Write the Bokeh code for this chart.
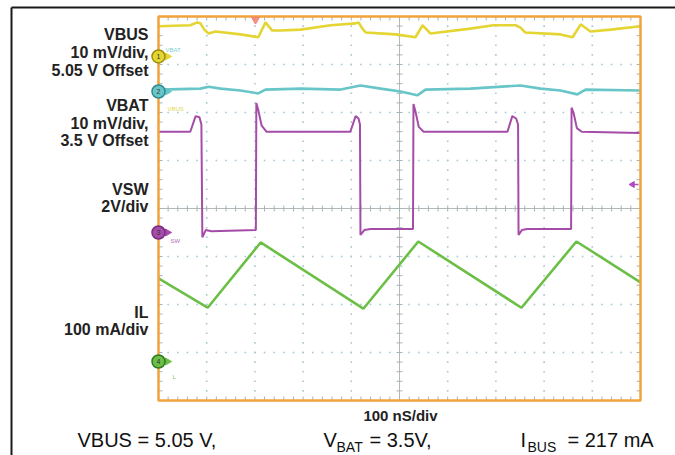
import numpy as np
from bokeh.plotting import figure
from bokeh.models import Range1d, ColumnDataSource
from bokeh.core.properties import value
from bokeh.embed import file_html
from bokeh.resources import INLINE

# ---------------- data ----------------
# time in ns (100 ns/div, 10 divisions)
vbus_t = [0, 66, 81, 87, 95, 104, 118, 170, 207, 222, 236, 253, 295, 357, 409, 415, 423, 430,
          492, 533, 548, 564, 647, 695, 741, 751, 761, 834, 859, 876, 896, 938, 1000]
vbus_mv = [6.3, 6.5, 7.1, 6.9, 5.6, 4.8, 5.2, 4.6, 4.0, 7.1, 5.4, 5.4, 5.6, 6.5, 6.9, 7.1, 5.8, 5.0,
           4.6, 4.0, 6.5, 4.8, 5.8, 6.5, 6.5, 6.0, 5.0, 4.6, 4.0, 6.7, 5.2, 5.6, 6.3]

vbat_t = [0, 87, 104, 129, 170, 207, 222, 295, 378, 419, 461, 502, 537, 554, 647, 751, 793,
          834, 869, 886, 1000]
vbat_mv = [0.4, 0.6, 1.0, 0.6, 0.2, -0.4, 0.4, 0.6, 0.4, 1.25, 0.6, 0.0, -0.8, 0.4, 0.6, 1.25, 0.6,
           0.2, -0.6, 0.4, 0.2]

vsw_t = [0, 66, 77, 85, 89, 91, 98, 110, 202, 203, 207, 214, 224,
         398, 409, 415, 418, 419, 427, 440, 528, 529, 533, 540, 550,
         724, 734, 742, 746, 747, 754, 765, 856, 857, 861, 868, 878, 1000]
vsw_v = [4.2, 4.2, 4.85, 4.8, 4.5, -0.2, 0.1, 0.05, 0.1, 5.4, 5.1, 4.45, 4.2,
         4.2, 4.85, 4.75, 4.5, -0.1, 0.1, 0.15, 0.15, 5.35, 5.05, 4.4, 4.2,
         4.2, 4.85, 4.75, 4.5, -0.1, 0.1, 0.15, 0.15, 5.2, 5.0, 4.35, 4.2, 4.15]

il_t = [0, 102, 212, 425, 539, 753, 867, 1000]
il_ma = [173, 112, 248, 110, 250, 112, 250, 165]

# channel scale per division and ground-marker position (divisions from centre)
ch_names = ["VBUS", "VBAT", "VSW", "IL"]
ch_per_div = [10.0, 10.0, 2.0, 100.0]
ch_marker_div = [3.167, 2.4375, -0.5, -3.1875]
ch_colors = ["#e4d532", "#68c6c8", "#a54ca8", "#6cbf46"]
ch_dark = ["#9c8f10", "#2e8a8e", "#7a2a80", "#2f7a22"]
ch_numbers = ["1", "2", "3", "4"]
ch_tags = ["VBAT", "VBUS", "SW", "L"]

side_labels = ["VBUS", "10 mV/div,", "5.05 V Offset",
               "VBAT", "10 mV/div,", "3.5 V Offset",
               "VSW", "2V/div",
               "IL", "100 mA/div"]
time_label = "100 nS/div"

# ---------------- layout helpers (reference pixel -> data) ----------------
W, H = 675, 455
def tx(xr):  # reference x pixel -> ns
    return (xr - 158) * 1000.0 / 482.0
def dy(yr):  # reference y pixel -> divisions
    return (208 - yr) / 48.0

p = figure(width=W, height=H, x_range=Range1d(tx(0), tx(W)),
           y_range=Range1d(dy(H), dy(0)),
           output_backend="svg", toolbar_location=None,
           x_axis_location=None, y_axis_location=None, min_border=0)
p.outline_line_color = None
p.background_fill_color = "white"
p.border_fill_color = "white"
p.xgrid.visible = False
p.ygrid.visible = False

# outer black frame lines
p.line([tx(11), tx(11)], [dy(7), dy(H + 2)], line_color="#1a1a1a", line_width=2)
p.line([tx(11), tx(W + 2)], [dy(7), dy(7)], line_color="#1a1a1a", line_width=2)

# ---------------- graticule ----------------
dot_col = "#a6c8d4"
mx = np.arange(20, 1000, 20)
my = np.arange(-3.8, 3.81, 0.2)
gx, gy = [], []
for t in range(100, 1000, 100):
    if t == 500:
        continue
    gx += [t] * len(my); gy += list(my)
for d in range(-3, 4):
    if d == 0:
        continue
    gx += list(mx); gy += [d] * len(mx)
p.scatter(gx, gy, marker="square", size=1.6, fill_color=dot_col, line_color=None)

p.line([500, 500], [-4, 4], line_color="#b7bab2", line_width=1)
p.line([0, 1000], [0, 0], line_color="#b7bab2", line_width=1)

tick_col = "#9db6c2"
htx = 3 * 1000.0 / 482.0
hty = 3 / 48.0
bx = 4 * 1000.0 / 482.0
by = 4 / 48.0
x0s, y0s, x1s, y1s = [], [], [], []
for t in mx:
    x0s += [t, t, t]; x1s += [t, t, t]
    y0s += [-hty, 4, -4]; y1s += [hty, 4 - by, -4 + by]
for d in my:
    y0s += [d, d, d]; y1s += [d, d, d]
    x0s += [500 - htx, 0, 1000]; x1s += [500 + htx, bx, 1000 - bx]
p.segment(x0s, y0s, x1s, y1s, line_color=tick_col, line_width=1)

# ---------------- traces ----------------
def to_div(vals, i):
    return [ch_marker_div[i] + v / ch_per_div[i] for v in vals]

p.line(vbus_t, to_div(vbus_mv, 0), line_color=ch_colors[0], line_width=2.6)
p.line(vbat_t, to_div(vbat_mv, 1), line_color=ch_colors[1], line_width=2.6)
p.line(vsw_t, to_div(vsw_v, 2), line_color=ch_colors[2], line_width=2.0)
p.line(il_t, to_div(il_ma, 3), line_color=ch_colors[3], line_width=2.6)

# screen border
p.quad(left=[0], right=[1000], bottom=[-4], top=[4], fill_color=None,
       line_color="#f2a23c", line_width=2.5)

# trigger position (top) and trigger level (right)
p.scatter([tx(255)], [dy(19)], marker="triangle", angle=np.pi, size=8,
          fill_color="#f2806e", line_color="#f2806e", fill_alpha=0.85)
p.line([tx(632), tx(638)], [dy(184), dy(184)], line_color="#b04cc0", line_width=1.5)
p.scatter([tx(632)], [dy(184)], marker="triangle", angle=np.pi / 2, size=6,
          fill_color="#b04cc0", line_color="#b04cc0")

# channel ground markers
p.scatter([tx(167)] * 4, ch_marker_div, marker="triangle", angle=-np.pi / 2, size=7,
          fill_color=ch_colors, line_color=ch_colors)
p.scatter([tx(158)] * 4, ch_marker_div, marker="circle", size=13,
          fill_color=ch_colors, line_color=ch_dark, line_width=1.5)
p.text([tx(158)] * 4, ch_marker_div, text=ch_numbers, text_font=value("Liberation Sans"),
       text_font_size="7px", text_color="#333333", text_align="center",
       text_baseline="middle")

# tiny channel tags inside the screen
tag_src = ColumnDataSource(dict(x=[tx(165), tx(167), tx(170), tx(172)],
                                y=[dy(49), dy(108), dy(240), dy(376)],
                                text=ch_tags,
                                color=["#7fcfd2", "#e0d650", "#b070c0", "#7cc860"]))
p.text("x", "y", text="text", source=tag_src, text_color="color",
       text_font=value("Liberation Sans"), text_font_size="6px",
       text_baseline="middle", text_align="left")

# ---------------- texts (y = vertical centre of capitals) ----------------
side_mid = [34, 52, 70, 105, 122.5, 140, 188.5, 205.5, 311.5, 329]
p.text([tx(148)] * len(side_labels), [dy(b) for b in side_mid], text=side_labels,
       text_font=value("Liberation Sans"), text_font_style="bold",
       text_font_size="16px", text_color="#222222",
       text_align="right", text_baseline="middle")

p.text([tx(400)], [dy(415)], text=[time_label],
       text_font=value("Liberation Sans"), text_font_style="bold",
       text_font_size="15px", text_color="#222222",
       text_align="center", text_baseline="middle")

big = [("VBUS = 5.05 V,", 77, 439), ("V", 323, 439), ("= 3.5V,", 369, 439),
       ("I", 520, 439), ("= 217 mA", 567, 439)]
p.text([tx(b[1]) for b in big], [dy(b[2]) for b in big], text=[b[0] for b in big],
       text_font=value("Liberation Sans"), text_font_size="20px", text_color="#111111",
       text_align="left", text_baseline="middle")
small = [("BAT", 336, 446), ("BUS", 527, 446)]
p.text([tx(b[1]) for b in small], [dy(b[2]) for b in small], text=[b[0] for b in small],
       text_font=value("Liberation Sans"), text_font_size="14px", text_color="#111111",
       text_align="left", text_baseline="middle")

open("out.html", "w").write(file_html(p, INLINE))
